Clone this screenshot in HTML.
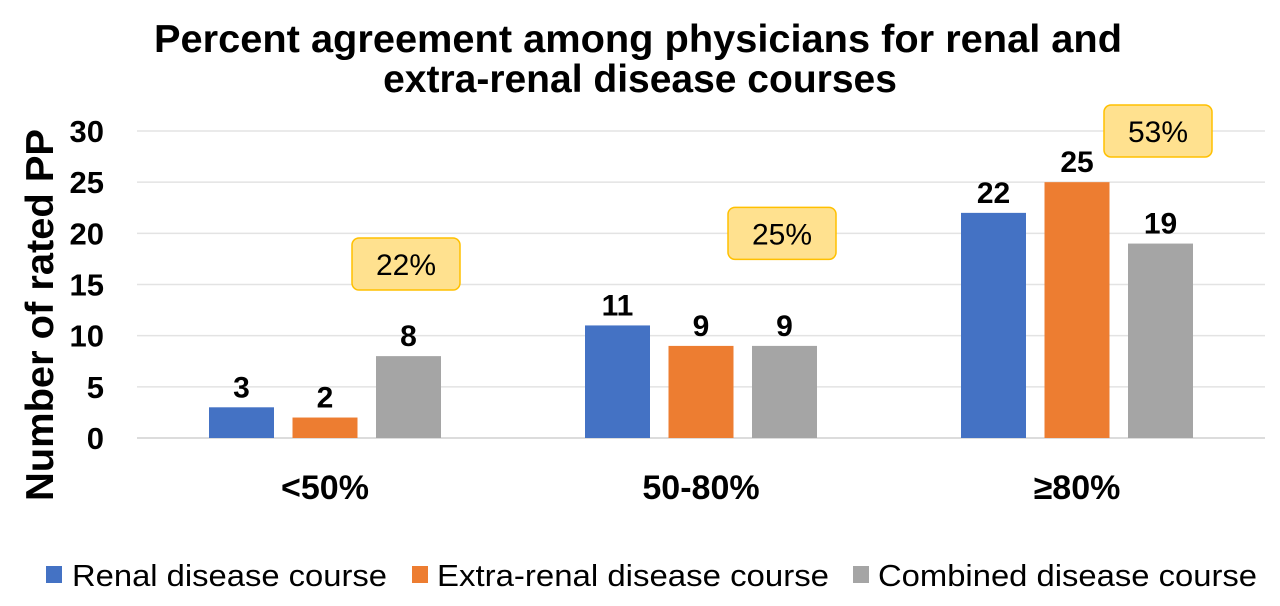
<!DOCTYPE html>
<html><head><meta charset="utf-8"><style>
html,body{margin:0;padding:0;background:#fff;}
svg{display:block;font-family:"Liberation Sans",Arial,sans-serif;}
</style></head><body>
<svg id="chart" width="1280" height="606" viewBox="0 0 1280 606">
<text x="638" y="52" text-anchor="middle" font-size="39" font-weight="bold" textLength="968" lengthAdjust="spacingAndGlyphs">Percent agreement among physicians for renal and</text>
<text x="640" y="92" text-anchor="middle" font-size="39" font-weight="bold">extra-renal disease courses</text>
<text transform="translate(53,315) rotate(-90)" text-anchor="middle" font-size="39" font-weight="bold" textLength="372" lengthAdjust="spacingAndGlyphs">Number of rated PP</text>
<g id="grid"></g><g id="bars"></g><g id="labels"></g><g id="callouts"></g>
<g>
<rect x="46" y="566" width="16" height="17" fill="#4472C4"/>
<text x="72" y="586" font-size="31" textLength="315" lengthAdjust="spacingAndGlyphs">Renal disease course</text>
<rect x="412" y="566" width="16" height="17" fill="#ED7D31"/>
<text x="437" y="586" font-size="31" textLength="392" lengthAdjust="spacingAndGlyphs">Extra-renal disease course</text>
<rect x="853" y="566" width="16" height="17" fill="#A5A5A5"/>
<text x="878" y="586" font-size="31" textLength="379" lengthAdjust="spacingAndGlyphs">Combined disease course</text>
</g>
</svg>
<script>
const categories=["<50%","50-80%","≥80%"];
const renal=[3,11,22];
const extraRenal=[2,9,25];
const combined=[8,9,19];
const percentLabels=["22%","25%","53%"];
const percentLevels=[17,20,30];
const yTicks=[0,5,10,15,20,25,30];
const series=[{v:renal,c:"#4472C4",n:"renal"},{v:extraRenal,c:"#ED7D31",n:"extra-renal"},{v:combined,c:"#A5A5A5",n:"combined"}];
const NS="http://www.w3.org/2000/svg";
const y=v=>438-v*(307/30);
const x0=137,catW=376;
const cx=i=>x0+catW*(i+0.5);
function mk(t,a,p){const e=document.createElementNS(NS,t);for(const k in a)e.setAttribute(k,a[k]);p.appendChild(e);return e;}
const grid=document.getElementById('grid'),bars=document.getElementById('bars'),labels=document.getElementById('labels'),call=document.getElementById('callouts');
yTicks.forEach(t=>{
 const l=mk('line',{x1:x0,x2:1265,y1:y(t),y2:y(t),stroke:t===0?'#d0d0d0':'#e3e3e3','stroke-width':1.5},grid);
 
 
 const tx=mk('text',{x:104,y:y(t)+11,'text-anchor':'end','font-size':31,'font-weight':'bold'},grid);
 tx.textContent=t;
 
 
});
categories.forEach((c,i)=>{
 series.forEach((s,j)=>{
  const bx=cx(i)+(j-1)*83.5-32.5,v=s.v[i];
  const r=mk('rect',{x:bx,y:y(v),width:65,height:y(0)-y(v),fill:s.c},bars);
  
  
  const t=mk('text',{x:bx+32.5,y:y(v)-10,'text-anchor':'middle','font-size':30,'font-weight':'bold'},labels);
  t.textContent=v;
  
  
 });
 const ct=mk('text',{x:cx(i),y:499,'text-anchor':'middle','font-size':34,'font-weight':'bold'},labels);
 ct.textContent=c;
 
 
 const by=y(percentLevels[i]),bxc=cx(i)+81;
 const b=mk('rect',{x:bxc-54,y:by-26,width:108,height:52,rx:7,fill:'#FFE18F',stroke:'#FFC000','stroke-width':1.5},call);
 
 
 const bt=mk('text',{x:bxc,y:by+11,'text-anchor':'middle','font-size':30},call);
 bt.textContent=percentLabels[i];
 
 
});
</script>
</body></html>
